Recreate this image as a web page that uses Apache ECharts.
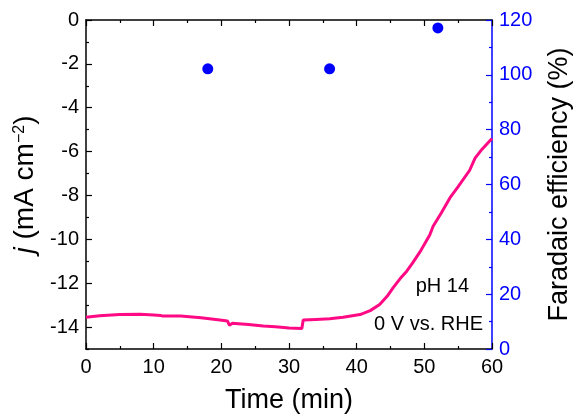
<!DOCTYPE html>
<html><head><meta charset="utf-8">
<script src="https://cdn.jsdelivr.net/npm/echarts@6/dist/echarts.min.js"></script>
<style>html,body{margin:0;padding:0;background:#fff}#c{width:573px;height:417px}</style>
</head><body><div id="c"></div>
<script>
// Current density trace: time (min) and j (mA cm^-2)
const timeMin = [0,2,5,8,10,11,11.2,11.4,14,17,19.8,20.9,21.2,21.6,24,26.2,28,30,31.9,32.1,34,36,38,40.5,42,43.4,44.5,45.4,46.4,47.4,48.3,49.5,50.8,51.3,52.5,53.8,55,56.7,57.5,58.5,60];
const currentJ = [-13.55,-13.48,-13.43,-13.42,-13.45,-13.47,-13.55,-13.5,-13.5,-13.58,-13.68,-13.72,-13.92,-13.83,-13.88,-13.95,-13.99,-14.04,-14.07,-13.68,-13.65,-13.62,-13.55,-13.43,-13.25,-12.97,-12.6,-12.2,-11.8,-11.45,-11.06,-10.5,-9.8,-9.4,-8.8,-8.1,-7.6,-6.85,-6.3,-5.9,-5.4];
// Faradaic efficiency points
const feTime = [18, 36, 52];
const feValue = [102.2, 102.2, 117.1];
// Axis ranges and tick labels
const xRange = [0, 60];
const jRange = [-15, 0];
const jMajorTicks = [0,-2,-4,-6,-8,-10,-12,-14];
const jMinorTicks = [-1,-3,-5,-7,-9,-11,-13,-15];
const feRange = [0, 120];

const linePts = timeMin.map((t,i)=>[t,currentJ[i]]);
const fePts = feTime.map((t,i)=>[t,feValue[i]]);

const font = 'Liberation Sans, Arial, sans-serif';
const tickFs = 20, titleFs = 27;
const tickStyle = c => ({color:c,width:1.2});
const chart = echarts.init(document.getElementById('c'));
chart.setOption({
  animation:false,
  grid:{left:86,right:81,top:20,bottom:68,containLabel:false,outerBoundsMode:'none'},
  xAxis:[{
    type:'value',min:xRange[0],max:xRange[1],interval:10,
    name:'Time (min)',nameLocation:'middle',nameGap:38,
    nameTextStyle:{color:'#000',fontSize:titleFs,fontFamily:font},
    axisLine:{onZero:false,lineStyle:{color:'#000',width:1.5}},
    axisTick:{inside:true,length:6,lineStyle:tickStyle('#000')},
    minorTick:{show:true,splitNumber:2,length:3,lineStyle:tickStyle('#000')},
    axisLabel:{color:'#000',fontSize:tickFs,fontFamily:font,margin:8},
    splitLine:{show:false}
  },{
    type:'value',position:'top',min:xRange[0],max:xRange[1],interval:10,
    axisLine:{onZero:false,lineStyle:{color:'#000',width:1.5}},
    axisTick:{inside:true,length:6,lineStyle:tickStyle('#000')},
    minorTick:{show:true,splitNumber:2,length:3,lineStyle:tickStyle('#000')},
    axisLabel:{show:false},splitLine:{show:false}
  }],
  yAxis:[{
    type:'value',position:'left',min:jRange[0],max:jRange[1],interval:1,
    name:'{i|j}{n| (mA cm}{s|−2}{n|)}',nameLocation:'middle',nameRotate:90,nameGap:41,
    nameTextStyle:{color:'#000',fontFamily:font,rich:{
      i:{fontSize:28,fontStyle:'italic',fontFamily:font,color:'#000'},
      n:{fontSize:28,fontFamily:font,color:'#000'},
      s:{fontSize:16,fontFamily:font,color:'#000',verticalAlign:'top',padding:[0,0,12,0]}
    }},
    axisLine:{show:true,onZero:false,lineStyle:{color:'#000',width:1.5}},
    axisTick:{inside:true,length:6,customValues:jMajorTicks,lineStyle:tickStyle('#000')},
    axisLabel:{color:'#000',fontSize:tickFs,fontFamily:font,margin:7,customValues:jMajorTicks},
    splitLine:{show:false}
  },{
    type:'value',min:feRange[0],max:feRange[1],interval:20,position:'right',
    name:'Faradaic efficiency (%)',nameLocation:'middle',nameRotate:90,nameGap:54,
    nameTextStyle:{color:'#000',fontSize:titleFs,fontFamily:font},
    axisLine:{show:true,onZero:false,lineStyle:{color:'#0000ff',width:1.5}},
    axisTick:{inside:true,length:6,lineStyle:tickStyle('#0000ff')},
    minorTick:{show:true,splitNumber:2,length:3,lineStyle:tickStyle('#0000ff')},
    axisLabel:{color:'#0000ff',fontSize:tickFs,fontFamily:font,margin:7},
    splitLine:{show:false}
  },{
    type:'value',position:'left',min:jRange[0],max:jRange[1],interval:1,
    axisLine:{show:false,onZero:false},
    axisTick:{inside:true,length:3,customValues:jMinorTicks,lineStyle:tickStyle('#000')},
    axisLabel:{show:false},splitLine:{show:false}
  }],
  series:[{
    type:'line',data:linePts,xAxisIndex:0,yAxisIndex:0,showSymbol:false,
    lineStyle:{color:'#ff0a84',width:3},z:3
  },{
    type:'scatter',data:fePts,xAxisIndex:0,yAxisIndex:1,symbolSize:11,
    itemStyle:{color:'#0000ff',opacity:1},z:4
  }],
  graphic:[
    {type:'text',x:469,y:286,style:{text:'pH 14',fontSize:tickFs,fontFamily:font,fill:'#000',align:'right',verticalAlign:'middle'}},
    {type:'text',x:483,y:324,style:{text:'0 V vs. RHE',fontSize:tickFs,fontFamily:font,fill:'#000',align:'right',verticalAlign:'middle'}}
  ]
});
</script></body></html>
